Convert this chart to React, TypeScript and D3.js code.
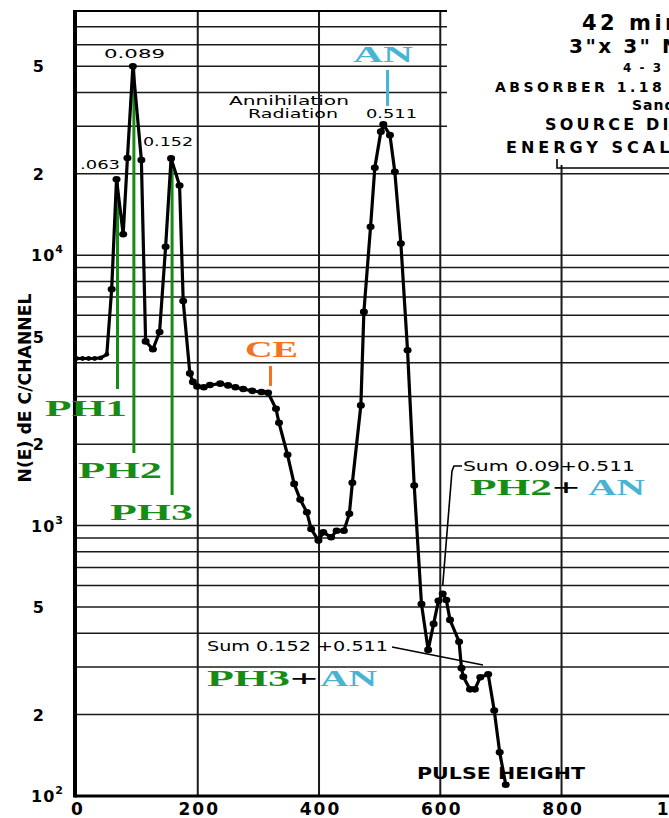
import React from "react";
import * as d3 from "d3";

const channels = [0,10,20,30,40,50,58,66,77,84,93,107,114,126,137,147,156,170,176,187,192,199,210,220,237,250,262,275,290,305,316,329,334,348,359,369,380,387,399,407,420,429,441,450,455,469,474,485,492,502,506,517,525,535,546,557,569,580,589,597,604,610,616,631,635,638,649,657,666,679,689,698,708];
const counts = [4150,4150,4150,4150,4170,4300,7480,19100,11960,22870,50000,22500,4800,4490,5200,10740,22800,18100,6770,3655,3400,3270,3250,3310,3350,3300,3250,3200,3150,3120,3100,2705,2400,1828,1426,1248,1120,972,880,944,906,957,957,1105,1440,2783,6170,12730,21050,28640,30500,27800,20350,11050,4450,1407,513,347,433,527,560,531,448,372,297,276,248,248,275,282,207,145,110];

const xTicks = [0, 200, 400, 600, 800, 1000];
const yTickValues = [50000, 20000, 10000, 5000, 2000, 1000, 500, 200, 100];
const yTickMant = ["5", "2", "10", "5", "2", "10", "5", "2", "10"];
const yTickExp = ["", "", "4", "", "", "3", "", "", "2"];

const peakLabels = ["PH1", "PH2", "PH3"];
const peakChannels = [66, 93, 156];
const peakCounts = [19100, 50000, 22800];

const GREEN = "#168c16";
const BLUE = "#48b4d4";
const ORANGE = "#f4731f";
const SANS = "DejaVu Sans, sans-serif";
const SERIF = "Liberation Serif, serif";

function T(props: any) {
  const { x, y, len, fs = 13, fw = "normal", fill = "#000", family = SANS, anchor = "start", children, ls } = props;
  return (
    <text
      x={x}
      y={y}
      fontSize={fs}
      fontWeight={fw}
      fill={fill}
      fontFamily={family}
      textAnchor={anchor}
      textLength={len}
      lengthAdjust={len ? "spacingAndGlyphs" : undefined}
      letterSpacing={ls}
    >
      {children}
    </text>
  );
}

export default function App() {
  const W = 669, H = 818;
  const x = d3.scaleLinear().domain([0, 1000]).range([76.5, 682.8]);
  const y = d3.scaleLog().domain([100, 80000]).range([796, 11]);

  const grid: number[] = [];
  for (let d = 2; d <= 4; d++) for (let k = 1; k <= 9; k++) { const v = k * Math.pow(10, d); if (v <= 80000 && v > 100) grid.push(v); }

  const pts = channels.map((c, i) => [x(c), y(counts[i])] as [number, number]);
  const line = d3.line().curve(d3.curveLinear)(pts) || "";

  const left = 75;
  const bottom = y(100);

  return (
    <svg width={W} height={H} style={{ position: "absolute", left: 0, top: 0, background: "#fff" }}>
      <rect x={0} y={0} width={W} height={H} fill="#fff" />
      {/* horizontal grid */}
      {grid.map((v) => (
        <line key={"h" + v} x1={left} x2={y(v) < 160 ? 447 : W} y1={y(v)} y2={y(v)} stroke="#1a1a1a" strokeWidth={1.5} />
      ))}
      {/* vertical grid */}
      {xTicks.filter((t) => t > 0).map((t) => (
        <line key={"v" + t} x1={x(t)} x2={x(t)} y1={t >= 800 ? 165 : 11} y2={bottom} stroke="#1a1a1a" strokeWidth={2} />
      ))}
      {/* top frame */}
      <line x1={left} x2={447} y1={11} y2={11} stroke="#000" strokeWidth={2} />
      {/* axes */}
      <line x1={left} x2={left} y1={10} y2={bottom + 1.5} stroke="#000" strokeWidth={4} />
      <line x1={left} x2={W} y1={bottom} y2={bottom} stroke="#000" strokeWidth={3} />

      {/* x tick labels */}
      {xTicks.map((t) => (
        <T key={"xt" + t} x={x(t) + 1.5} y={815} fs={17} fw="bold" anchor="middle" ls={2}>{String(t)}</T>
      ))}
      {/* y tick labels */}
      {yTickValues.map((v, i) =>
        yTickExp[i] ? (
          <text key={"yt" + v} x={64} y={y(v) + 6} fontSize={16} fontWeight="bold" fontFamily={SANS} textAnchor="end" letterSpacing={1}>
            {yTickMant[i]}
            <tspan fontSize={11} dy={-8}>{yTickExp[i]}</tspan>
          </text>
        ) : (
          <T key={"yt" + v} x={44} y={y(v) + 6} fs={16} fw="bold" anchor="end">{yTickMant[i]}</T>
        )
      )}
      {/* y axis title */}
      <g transform={`translate(31, 388) rotate(-90)`}>
        <T x={0} y={0} fs={18} fw="bold" anchor="middle" len={189}>N(E) dE C/CHANNEL</T>
      </g>

      {/* PH green markers */}
      {peakChannels.map((c, i) => (
        <line key={"ph" + i} x1={x(c) + 1} x2={x(c) + 1} y1={y(peakCounts[i]) + 2} y2={[389, 453, 495][i]} stroke={GREEN} strokeWidth={3} />
      ))}

      {/* data */}
      <path d={line} fill="none" stroke="#000" strokeWidth={3.2} strokeLinejoin="round" />
      {pts.map((p, i) => (
        <ellipse key={"d" + i} cx={p[0]} cy={p[1]} rx={channels[i] <= 50 ? 2.4 : 4} ry={channels[i] <= 50 ? 2.4 : 3.3} fill="#000" />
      ))}

      {/* peak labels */}
      <T x={104} y={58} fs={13} len={61}>0.089</T>
      <T x={143} y={146} fs={13} len={50}>0.152</T>
      <T x={80} y={169} fs={13} len={40}>.063</T>
      <T x={229} y={105} fs={11.5} len={120}>Annihilation</T>
      <T x={248} y={118} fs={11.5} len={90}>Radiation</T>
      <T x={366} y={118} fs={13} len={51}>0.511</T>

      {/* green PH labels */}
      <T x={45} y={416} fs={24} fw="bold" family={SERIF} fill={GREEN} len={82}>{peakLabels[0]}</T>
      <T x={78} y={478} fs={24} fw="bold" family={SERIF} fill={GREEN} len={84}>{peakLabels[1]}</T>
      <T x={110} y={520} fs={24} fw="bold" family={SERIF} fill={GREEN} len={83}>{peakLabels[2]}</T>

      {/* CE */}
      <T x={245} y={357} fs={24} fw="bold" family={SERIF} fill={ORANGE} len={53}>CE</T>
      <line x1={x(320)} x2={x(320)} y1={366} y2={386} stroke={ORANGE} strokeWidth={3} />

      {/* AN */}
      <T x={353} y={62} fs={24} fw="bold" family={SERIF} fill={BLUE} len={60}>AN</T>
      <line x1={x(513)} x2={x(513)} y1={70} y2={106} stroke={BLUE} strokeWidth={3} />

      {/* Sum 0.09 + 0.511 */}
      <polyline points={`462,466 454,466 452,471 ${x(604)},${y(600)}`} fill="none" stroke="#000" strokeWidth={1.6} />
      <T x={463} y={471} fs={14} len={172}>Sum 0.09+0.511</T>
      <T x={470} y={495} fs={24} fw="bold" family={SERIF} fill={GREEN} len={82}>PH2</T>
      <T x={552} y={495} fs={24} fw="bold" family={SERIF} fill="#000" len={28}>+</T>
      <T x={588} y={495} fs={24} fw="bold" family={SERIF} fill={BLUE} len={57}>AN</T>

      {/* Sum 0.152 + 0.511 */}
      <line x1={392} y1={647} x2={483} y2={665} stroke="#000" strokeWidth={1.4} />
      <T x={207} y={651} fs={14} len={181}>Sum 0.152 +0.511</T>
      <T x={207} y={686} fs={24} fw="bold" family={SERIF} fill={GREEN} len={83}>PH3</T>
      <T x={290} y={686} fs={24} fw="bold" family={SERIF} fill="#000" len={28}>+</T>
      <T x={320} y={686} fs={24} fw="bold" family={SERIF} fill={BLUE} len={57}>AN</T>

      {/* pulse height */}
      <T x={417} y={779} fs={15} fw="bold" len={168}>PULSE HEIGHT</T>

      {/* top right info (clipped at right edge) */}
      <T x={582} y={30} fs={21} fw="bold" ls={3.5}>42 min</T>
      <T x={569} y={53} fs={20} fw="bold" ls={2.5}>3"x 3" NaI</T>
      <T x={623} y={72} fs={12} fw="bold" ls={2}>4 - 3 - 58</T>
      <T x={495} y={92} fs={14} fw="bold" ls={3.5}>ABSORBER 1.18 g/cm²</T>
      <T x={632} y={110} fs={14} fw="bold" ls={1}>Sandwich</T>
      <T x={545} y={130} fs={16} fw="bold" ls={3.2}>SOURCE DIST.</T>
      <T x={506} y={153} fs={16} fw="bold" ls={4}>ENERGY SCALE</T>
      <polyline points={`557,159 557,168 ${W},168`} fill="none" stroke="#000" strokeWidth={1.6} />
    </svg>
  );
}
